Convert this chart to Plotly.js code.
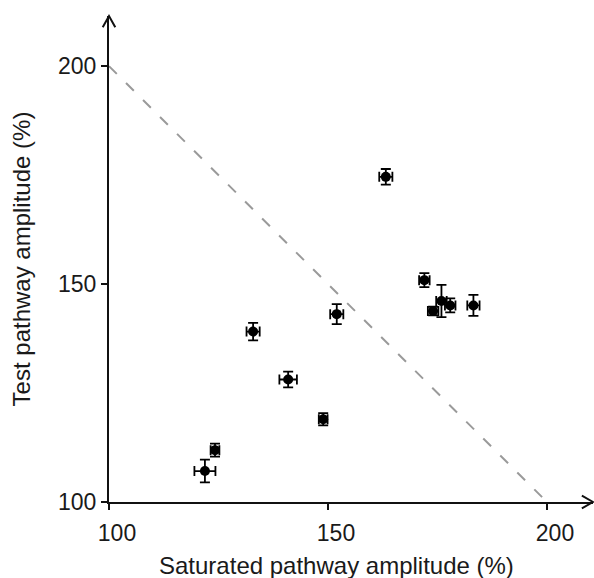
<!DOCTYPE html>
<html>
<head>
<meta charset="utf-8">
<script src="https://cdn.plot.ly/plotly-3.0.1.min.js"></script>
<style>html,body{margin:0;padding:0;background:#fff;}#chart{width:594px;height:578px;}</style>
</head>
<body>
<div id="chart"></div>
<script>
const saturated = [121.9, 124.2, 132.9, 140.9, 148.9, 152.0, 163.2, 172.0, 174.0, 175.9, 177.9, 183.2];
const test      = [107.1, 111.9, 139.1, 128.1, 119.0, 143.1, 174.6, 150.9, 143.8, 146.1, 145.1, 145.1];
const satErr    = [2.4, 1.0, 1.5, 2.0, 1.0, 1.5, 1.5, 1.2, 1.2, 1.2, 1.2, 1.4];
const testErr   = [2.6, 1.5, 2.0, 1.8, 1.4, 2.3, 1.8, 1.6, 1.0, 3.7, 1.6, 2.4];
const diagX = [100, 200];
const diagY = [200, 100];
const tickVals = [100, 150, 200];
const xTitle = 'Saturated pathway amplitude (%)';
const yTitle = 'Test pathway amplitude (%)';

const traces = [
  {x: diagX, y: diagY, mode: 'lines', type: 'scatter',
   line: {color: '#9a9a9a', width: 2, dash: '11px,13px'}, hoverinfo: 'skip', showlegend: false},
  {x: saturated, y: test, mode: 'markers', type: 'scatter',
   marker: {color: '#000', size: 10},
   error_x: {type: 'data', array: satErr, visible: true, color: '#000', thickness: 1.8, width: 5},
   error_y: {type: 'data', array: testErr, visible: true, color: '#000', thickness: 1.8, width: 5},
   showlegend: false}
];
const fontFam = 'Liberation Sans, Arial, sans-serif';
const layout = {
  width: 594, height: 578,
  margin: {l: 109, r: 1, t: 16, b: 76},
  paper_bgcolor: '#fff', plot_bgcolor: '#fff',
  font: {family: fontFam, size: 23, color: '#1a1a1a'},
  xaxis: {range: [100, 210.5], tickvals: tickVals, ticks: 'outside', ticklen: 6, tickwidth: 2, tickcolor: '#111',
          ticklabelshift: 8, ticklabelstandoff: 3,
          showline: true, linecolor: '#111', linewidth: 2, showgrid: false, zeroline: false},
  yaxis: {range: [100, 211.5], tickvals: tickVals, ticks: 'outside', ticklen: 6, tickwidth: 2, tickcolor: '#111',
          showline: true, linecolor: '#111', linewidth: 2, showgrid: false, zeroline: false,
          title: {text: yTitle, font: {size: 24}, standoff: 21}},
  annotations: [
    {text: xTitle, xref: 'paper', yref: 'paper', x: 0.471, y: -0.13, xanchor: 'center', yanchor: 'middle',
     showarrow: false, font: {size: 24}}
  ],
  shapes: [
    {type: 'path', xref: 'paper', yref: 'paper', path: 'M -0.013 0.977 L 0 1 L 0.013 0.977',
     line: {color: '#111', width: 2}},
    {type: 'path', xref: 'paper', yref: 'paper', path: 'M 0.977 0.013 L 1 0 L 0.977 -0.013',
     line: {color: '#111', width: 2}}
  ]
};
Plotly.newPlot('chart', traces, layout, {displayModeBar: false, staticPlot: true});
</script>
</body>
</html>
